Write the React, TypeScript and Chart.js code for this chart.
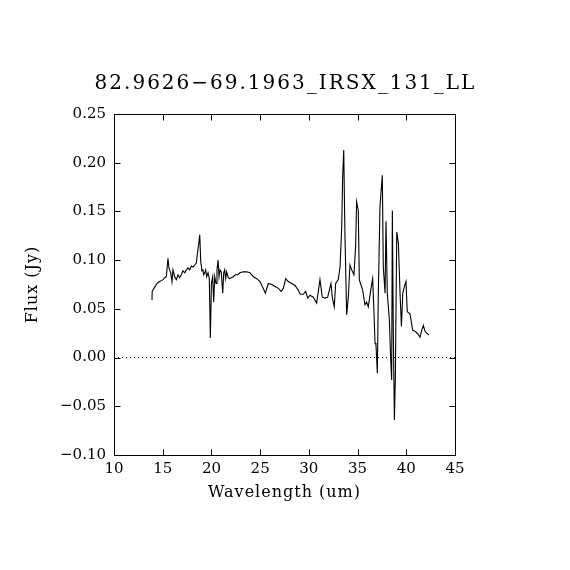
import React, { useEffect, useRef } from "react";
import { Chart, registerables } from "chart.js";

Chart.register(...registerables);

const TITLE = "82.9626\u221269.1963_IRSX_131_LL";
const X_LABEL = "Wavelength (um)";
const Y_LABEL = "Flux (Jy)";

const X_TICKS = [10, 15, 20, 25, 30, 35, 40, 45];
const Y_TICKS = [-0.1, -0.05, 0, 0.05, 0.1, 0.15, 0.2, 0.25];

const wavelength = [
  13.9, 13.92, 14.1, 14.34, 14.52, 14.69, 14.86, 15.03, 15.2, 15.37, 15.54, 15.64,
  15.82, 15.95, 16.05, 16.23, 16.4, 16.57, 16.74, 16.91, 17.08, 17.26, 17.43, 17.6,
  17.77, 17.94, 18.11, 18.28, 18.45, 18.55, 18.69, 18.8, 18.9, 19.03, 19.13, 19.2,
  19.31, 19.41, 19.51, 19.65, 19.78, 19.89, 20.0, 20.13, 20.23, 20.34, 20.47, 20.57,
  20.68, 20.78, 20.88, 21.01, 21.16, 21.26, 21.36, 21.46, 21.56, 21.7, 21.83, 22.04,
  22.24, 22.45, 22.69, 22.93, 23.27, 23.62, 23.96, 24.3, 24.65, 24.99, 25.32, 25.53,
  25.84, 26.19, 26.53, 26.87, 27.14, 27.38, 27.62, 27.89, 28.24, 28.58, 28.92, 29.1,
  29.43, 29.67, 29.88, 30.12, 30.45, 30.8, 31.14, 31.38, 31.66, 31.93, 32.27, 32.4,
  32.61, 32.75, 33.02, 33.2, 33.37, 33.47, 33.58, 33.7, 33.88, 34.05, 34.22, 34.4,
  34.63, 34.8, 34.9, 35.07, 35.18, 35.3, 35.53, 35.76, 35.93, 36.1, 36.35, 36.55,
  36.69, 36.79, 36.89, 37.03, 37.13, 37.3, 37.54, 37.64, 37.82, 37.92, 38.05, 38.26,
  38.4, 38.5, 38.57, 38.67, 38.78, 38.88, 39.02, 39.19, 39.36, 39.5, 39.64, 39.81,
  39.97, 40.1, 40.38, 40.66, 40.89, 41.13, 41.41, 41.58, 41.75, 41.92, 42.1, 42.33,
];

const flux = [
  0.059, 0.068, 0.071, 0.075, 0.077, 0.078, 0.079, 0.08, 0.082, 0.083, 0.102, 0.092,
  0.087, 0.078, 0.09, 0.083, 0.08, 0.085, 0.082, 0.085, 0.089, 0.087, 0.09, 0.092,
  0.09, 0.094, 0.093, 0.095, 0.097, 0.106, 0.116, 0.126, 0.099, 0.089, 0.09, 0.085,
  0.087, 0.09, 0.083, 0.087, 0.081, 0.02, 0.076, 0.083, 0.057, 0.083, 0.076, 0.09,
  0.1, 0.083, 0.09, 0.088, 0.066, 0.087, 0.09, 0.081, 0.088, 0.083, 0.081, 0.082,
  0.083, 0.085, 0.085, 0.087, 0.088, 0.088, 0.087, 0.083, 0.081, 0.078, 0.071, 0.066,
  0.076, 0.075, 0.073, 0.071, 0.068, 0.071, 0.081, 0.078, 0.076, 0.074, 0.069, 0.065,
  0.065, 0.068, 0.061, 0.064, 0.062, 0.056, 0.08, 0.062, 0.061, 0.062, 0.076, 0.062,
  0.052, 0.076, 0.08, 0.093, 0.133, 0.186, 0.213, 0.128, 0.044, 0.062, 0.095, 0.09,
  0.085, 0.114, 0.16, 0.151, 0.08, 0.076, 0.069, 0.054, 0.057, 0.052, 0.069, 0.081,
  0.045, 0.015, 0.013, -0.016, 0.066, 0.155, 0.187, 0.093, 0.066, 0.14, 0.066, 0.039,
  -0.002, -0.023, 0.151, 0.025, -0.064, -0.02, 0.129, 0.117, 0.066, 0.032, 0.066, 0.073,
  0.078, 0.047, 0.045, 0.028, 0.027, 0.025, 0.021, 0.028, 0.033, 0.027, 0.025, 0.023,
];

const zeroLine = [
  { x: 10, y: 0 },
  { x: 45, y: 0 },
];

const FONT = "'DejaVu Serif', serif";

const framePlugin = {
  id: "frame",
  afterDraw(chart: any) {
    const { ctx, chartArea } = chart;
    const xs = chart.scales.x;
    const ys = chart.scales.y;
    const l = Math.round(chartArea.left) + 0.5;
    const r = Math.round(chartArea.right) + 0.5;
    const t = Math.round(chartArea.top) + 0.5;
    const b = Math.round(chartArea.bottom) + 0.5;
    ctx.save();
    ctx.strokeStyle = "#000";
    ctx.lineWidth = 1;
    ctx.beginPath();
    ctx.rect(l, t, r - l, b - t);
    const tl = 6;
    X_TICKS.forEach((v) => {
      const px = Math.round(xs.getPixelForValue(v)) + 0.5;
      ctx.moveTo(px, b);
      ctx.lineTo(px, b - tl);
      ctx.moveTo(px, t);
      ctx.lineTo(px, t + tl);
    });
    Y_TICKS.forEach((v) => {
      const py = Math.round(ys.getPixelForValue(v)) + 0.5;
      ctx.moveTo(l, py);
      ctx.lineTo(l + tl, py);
      ctx.moveTo(r, py);
      ctx.lineTo(r - tl, py);
    });
    ctx.stroke();

    const cx = (chartArea.left + chartArea.right) / 2;
    const cy = (chartArea.top + chartArea.bottom) / 2;
    ctx.fillStyle = "#000";
    ctx.textAlign = "center";
    ctx.textBaseline = "alphabetic";
    (ctx as any).letterSpacing = "2px";
    ctx.font = `20px ${FONT}`;
    ctx.fillText(TITLE, cx + 1, 89);
    (ctx as any).letterSpacing = "1px";
    ctx.font = `16px ${FONT}`;
    ctx.fillText(X_LABEL, cx, 497);
    ctx.translate(37, cy);
    ctx.rotate(-Math.PI / 2);
    ctx.fillText(Y_LABEL, 0, 0);
    ctx.restore();
  },
};

const fmt = (v: number) => {
  const s = (Math.abs(v) < 1e-9 ? 0 : v).toFixed(2);
  return s.replace("-", "\u2212");
};

export default function App() {
  const ref = useRef<HTMLCanvasElement | null>(null);
  useEffect(() => {
    if (!ref.current) return;
    const chart = new Chart(ref.current, {
      type: "line",
      data: {
        datasets: [
          {
            data: wavelength.map((w, i) => ({ x: w, y: flux[i] })),
            borderColor: "#000",
            borderWidth: 1.1,
            pointRadius: 0,
            tension: 0,
            fill: false,
          },
          {
            data: zeroLine,
            borderColor: "#000",
            borderWidth: 1,
            borderDash: [1, 3],
            pointRadius: 0,
            fill: false,
          },
        ],
      },
      options: {
        animation: false,
        responsive: false,
        devicePixelRatio: 1,
        layout: { padding: { top: 114, right: 115, left: 0, bottom: 0 } },
        plugins: {
          legend: { display: false },
          title: { display: false },
          tooltip: { enabled: false },
        },
        scales: {
          x: {
            type: "linear",
            min: 10,
            max: 45,
            afterFit: (s: any) => {
              s.height = 115;
            },
            afterBuildTicks: (s: any) => {
              s.ticks = X_TICKS.map((v) => ({ value: v }));
            },
            grid: { display: false, drawTicks: false },
            border: { display: false },
            ticks: {
              color: "#000",
              padding: 5,
              maxRotation: 0,
              autoSkip: false,
              font: { family: FONT, size: 15 },
              callback: (v: any) => String(v),
            },
          },
          y: {
            type: "linear",
            min: -0.1,
            max: 0.25,
            afterFit: (s: any) => {
              s.width = 114;
            },
            afterBuildTicks: (s: any) => {
              s.ticks = Y_TICKS.map((v) => ({ value: v }));
            },
            grid: { display: false, drawTicks: false },
            border: { display: false },
            ticks: {
              color: "#000",
              padding: 8,
              autoSkip: false,
              font: { family: FONT, size: 15 },
              callback: (v: any) => fmt(Number(v)),
            },
          },
        },
      },
      plugins: [framePlugin],
    });
    return () => chart.destroy();
  }, []);
  return (
    <div style={{ position: "absolute", left: 0, top: 0, width: 570, height: 570, background: "#fff" }}>
      <canvas ref={ref} width={570} height={570} style={{ width: 570, height: 570 }} />
    </div>
  );
}
